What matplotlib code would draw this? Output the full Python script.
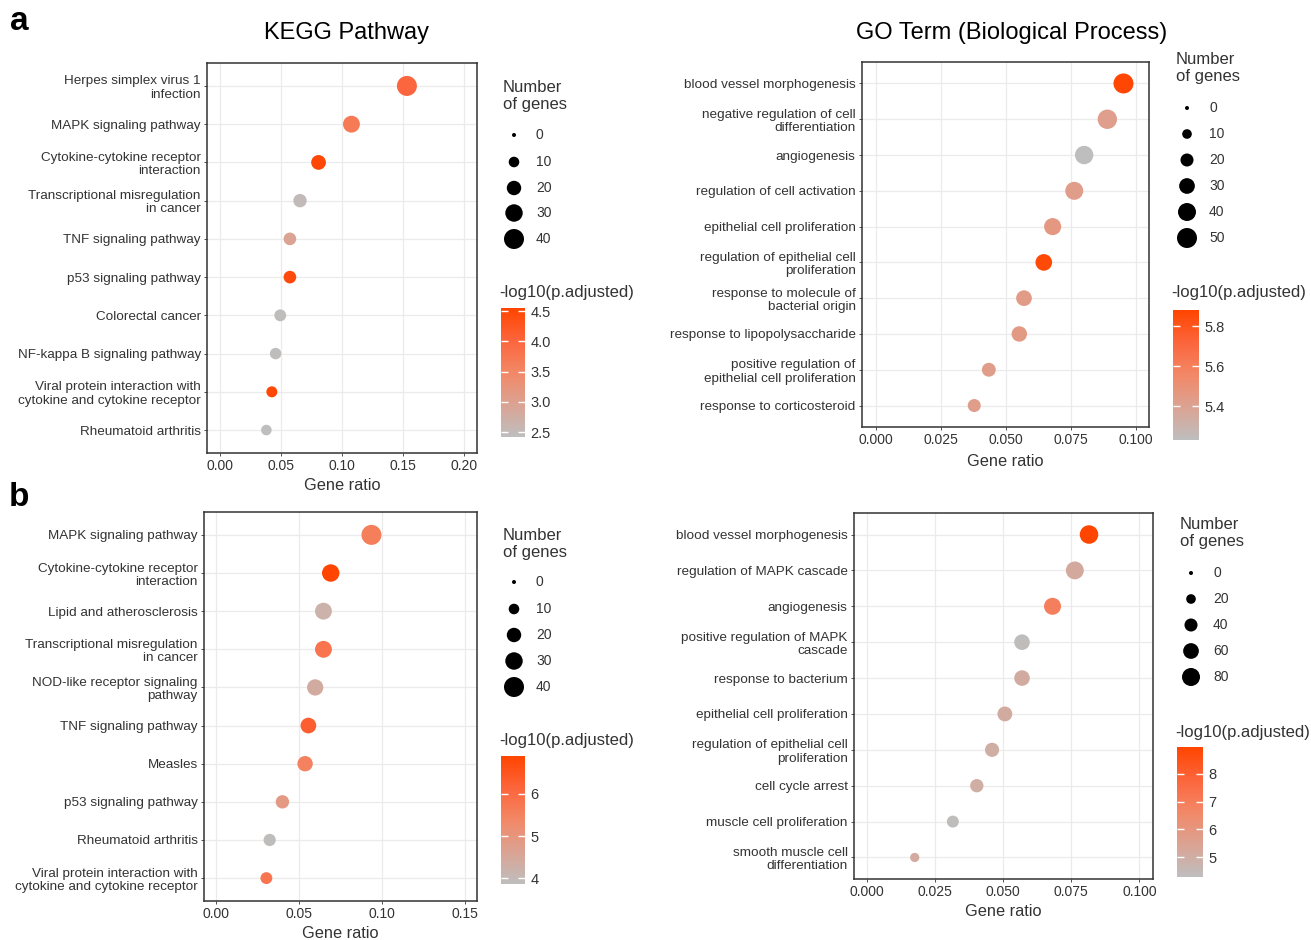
import matplotlib.pyplot as plt
from matplotlib.colors import LinearSegmentedColormap, Normalize
from matplotlib.cm import ScalarMappable

plt.rcParams['font.family'] = ['Liberation Sans', 'DejaVu Sans']

W, H = 1311, 940

# ---- data ----
kegg_a_terms = ["Herpes simplex virus 1\ninfection", "MAPK signaling pathway",
                "Cytokine-cytokine receptor\ninteraction", "Transcriptional misregulation\nin cancer",
                "TNF signaling pathway", "p53 signaling pathway", "Colorectal cancer",
                "NF-kappa B signaling pathway",
                "Viral protein interaction with\ncytokine and cytokine receptor", "Rheumatoid arthritis"]
kegg_a_ratio = [0.153, 0.1075, 0.0805, 0.0653, 0.057, 0.057, 0.0491, 0.0453, 0.0422, 0.0377]
kegg_a_count = [40, 28, 21, 17, 15, 15, 13, 12, 11, 10]
kegg_a_logp = [4.0, 3.7, 4.5, 2.5, 2.95, 4.45, 2.45, 2.45, 4.5, 2.42]

go_a_terms = ["blood vessel morphogenesis", "negative regulation of cell\ndifferentiation",
              "angiogenesis", "regulation of cell activation", "epithelial cell proliferation",
              "regulation of epithelial cell\nproliferation", "response to molecule of\nbacterial origin",
              "response to lipopolysaccharide", "positive regulation of\nepithelial cell proliferation",
              "response to corticosteroid"]
go_a_ratio = [0.0952, 0.089, 0.0801, 0.0763, 0.068, 0.0646, 0.057, 0.0552, 0.0435, 0.0379]
go_a_count = [50, 47, 42, 40, 36, 34, 30, 29, 23, 20]
go_a_logp = [5.87, 5.42, 5.23, 5.43, 5.46, 5.86, 5.44, 5.45, 5.43, 5.43]

kegg_b_terms = ["MAPK signaling pathway", "Cytokine-cytokine receptor\ninteraction",
                "Lipid and atherosclerosis", "Transcriptional misregulation\nin cancer",
                "NOD-like receptor signaling\npathway", "TNF signaling pathway", "Measles",
                "p53 signaling pathway", "Rheumatoid arthritis",
                "Viral protein interaction with\ncytokine and cytokine receptor"]
kegg_b_ratio = [0.0937, 0.0691, 0.0647, 0.0647, 0.0597, 0.0556, 0.0536, 0.0399, 0.0322, 0.0302]
kegg_b_count = [40, 30, 28, 28, 26, 24, 23, 17, 14, 13]
kegg_b_logp = [5.6, 6.9, 4.2, 5.8, 4.4, 6.3, 5.5, 4.9, 3.9, 5.8]

go_b_terms = ["blood vessel morphogenesis", "regulation of MAPK cascade", "angiogenesis",
              "positive regulation of MAPK\ncascade", "response to bacterium",
              "epithelial cell proliferation", "regulation of epithelial cell\nproliferation",
              "cell cycle arrest", "muscle cell proliferation", "smooth muscle cell\ndifferentiation"]
go_b_ratio = [0.0815, 0.0763, 0.0681, 0.0569, 0.0569, 0.0506, 0.0459, 0.0403, 0.0315, 0.0175]
go_b_count = [85, 79, 71, 59, 59, 53, 48, 42, 33, 18]
go_b_logp = [8.95, 5.2, 6.9, 4.35, 5.1, 5.1, 5.0, 5.0, 4.35, 5.1]

# grey -> orangered, stops approximating a Lab blend
cmap = LinearSegmentedColormap.from_list(
    "gr", ["#BEBEBE", "#DBA393", "#F28867", "#FC653C", "#FF4500"])
TXT = "#333333"

fig = plt.figure(figsize=(W / 100, H / 100), dpi=100)
over = fig.add_axes([0, 0, 1, 1])
over.set_xlim(0, W)
over.set_ylim(H, 0)
over.axis("off")


def px_axes(x0, y0, x1, y1):
    return fig.add_axes([x0 / W, 1 - y1 / H, (x1 - x0) / W, (y1 - y0) / H])


def size_of(c, cmax, dmax):
    # diameter in px: area grows linearly with count, 4px at 0
    d2 = 16 + (dmax ** 2 - 16) * c / cmax
    return d2 * 0.72 ** 2


def panel(box, terms, ratio, count, logp, xticks, xfmt, xlim, vmin, vmax, cticks, cfmt,
          breaks, dmax, xlab_y, leg_x, leg_top, leg_ys, cb_title_y, cb_box, title=None, title_x=None):
    ax = px_axes(*box)
    n = len(terms)
    ys = list(range(n, 0, -1))
    sizes = [size_of(c, breaks[-1], dmax) for c in count]
    ax.scatter(ratio, ys, s=sizes, c=logp, cmap=cmap, vmin=vmin, vmax=vmax,
               linewidths=0, zorder=3)
    ax.set_xlim(*xlim)
    ax.set_ylim(0.4, n + 0.6)
    ax.set_yticks(ys)
    ax.set_yticklabels(terms, fontsize=9.7, color=TXT, linespacing=1.15)
    ax.set_xticks(xticks)
    ax.set_xticklabels([xfmt.format(v) for v in xticks], fontsize=10, color=TXT)
    ax.grid(True, color="#EBEBEB", linewidth=0.9, zorder=0)
    ax.set_axisbelow(True)
    ax.tick_params(length=2.5, color=TXT, width=0.6, pad=2)
    for sp in ax.spines.values():
        sp.set_color("#333333")
        sp.set_linewidth(1.1)
    over.text((box[0] + box[2]) / 2, xlab_y, "Gene ratio", fontsize=11.8, color=TXT,
              ha="center", va="center")
    if title:
        over.text(title_x, 33, title, fontsize=17, color="black", ha="center", va="center")

    # size legend
    over.text(leg_x, leg_top, "Number\nof genes", fontsize=12, color=TXT, ha="left",
              va="top", linespacing=1.15)
    over.scatter([leg_x + 11] * len(breaks), leg_ys,
                 s=[size_of(b, breaks[-1], dmax) for b in breaks], color="black", linewidths=0)
    for b, y in zip(breaks, leg_ys):
        over.text(leg_x + 33, y, str(b), fontsize=10, color=TXT, ha="left", va="center")

    # colour bar
    over.text(cb_box[0] - 2, cb_title_y, "-log10(p.adjusted)", fontsize=12, color=TXT,
              ha="left", va="center")
    cax = px_axes(*cb_box)
    sm = ScalarMappable(norm=Normalize(vmin, vmax), cmap=cmap)
    cb = fig.colorbar(sm, cax=cax)
    cb.outline.set_visible(False)
    cb.set_ticks(cticks)
    cb.set_ticklabels([cfmt.format(t) for t in cticks])
    cax.tick_params(axis="y", direction="in", length=5, width=1, color="white",
                    left=True, right=True, labelsize=10.5, labelcolor=TXT, pad=4)


panel((207, 63, 477, 453), kegg_a_terms, kegg_a_ratio, kegg_a_count, kegg_a_logp,
      [0, 0.05, 0.10, 0.15, 0.20], "{:.2f}", (-0.011, 0.2105), 2.42, 4.55,
      [2.5, 3.0, 3.5, 4.0, 4.5], "{:.1f}", [0, 10, 20, 30, 40], 20, 486,
      503, 80, [135, 162, 188, 213, 239], 293, (501, 308, 525, 437),
      title="KEGG Pathway", title_x=346)

panel((862, 62, 1149, 427), go_a_terms, go_a_ratio, go_a_count, go_a_logp,
      [0, 0.025, 0.05, 0.075, 0.10], "{:.3f}", (-0.0052, 0.105), 5.23, 5.88,
      [5.4, 5.6, 5.8], "{:.1f}", [0, 10, 20, 30, 40, 50], 20, 461,
      1176, 52, [108, 134, 160, 186, 212, 238], 293, (1173, 310, 1199, 440),
      title="GO Term (Biological Process)", title_x=1012)

panel((204, 512, 477, 901), kegg_b_terms, kegg_b_ratio, kegg_b_count, kegg_b_logp,
      [0, 0.05, 0.10, 0.15], "{:.2f}", (-0.0075, 0.1575), 3.86, 6.9,
      [4, 5, 6], "{:.0f}", [0, 10, 20, 30, 40], 20, 933,
      503, 528, [582, 609, 635, 661, 687], 741, (501, 756, 525, 884))

panel((854, 513, 1153, 879), go_b_terms, go_b_ratio, go_b_count, go_b_logp,
      [0, 0.025, 0.05, 0.075, 0.10], "{:.3f}", (-0.0048, 0.105), 4.29, 8.96,
      [5, 6, 7, 8], "{:.0f}", [0, 20, 40, 60, 80], 18, 912,
      1180, 517, [573, 599, 625, 651, 677], 733, (1177, 747, 1203, 877))

over.text(19, 22, "a", fontsize=24, fontweight="bold", ha="center", va="center")
over.text(19, 497, "b", fontsize=24, fontweight="bold", ha="center", va="center")

fig.savefig("out.png", dpi=100)
